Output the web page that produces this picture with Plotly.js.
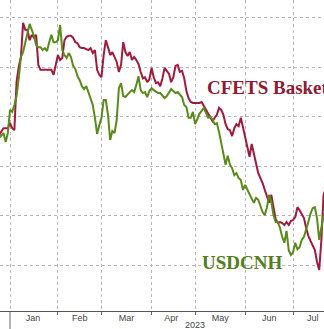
<!DOCTYPE html>
<html>
<head>
<meta charset="utf-8">
<script src="https://cdn.plot.ly/plotly-3.0.1.min.js"></script>
<style>html,body{margin:0;padding:0;background:#fff;}#chart{width:324px;height:329px;}</style>
</head>
<body>
<div id="chart"></div>
<script>
// Trading days (weekdays only, as on the original chart)
var dates = [
"2022-12-26","2022-12-27","2022-12-28","2022-12-29","2022-12-30",
"2023-01-02","2023-01-03","2023-01-04","2023-01-05","2023-01-06","2023-01-09","2023-01-10","2023-01-11","2023-01-12","2023-01-13","2023-01-16","2023-01-17","2023-01-18","2023-01-19","2023-01-20","2023-01-23","2023-01-24","2023-01-25","2023-01-26","2023-01-27","2023-01-30","2023-01-31",
"2023-02-01","2023-02-02","2023-02-03","2023-02-06","2023-02-07","2023-02-08","2023-02-09","2023-02-10","2023-02-13","2023-02-14","2023-02-15","2023-02-16","2023-02-17","2023-02-20","2023-02-21","2023-02-22","2023-02-23","2023-02-24","2023-02-27","2023-02-28",
"2023-03-01","2023-03-02","2023-03-03","2023-03-06","2023-03-07","2023-03-08","2023-03-09","2023-03-10","2023-03-13","2023-03-14","2023-03-15","2023-03-16","2023-03-17","2023-03-20","2023-03-21","2023-03-22","2023-03-23","2023-03-24","2023-03-27","2023-03-28","2023-03-29","2023-03-30","2023-03-31",
"2023-04-03","2023-04-04","2023-04-05","2023-04-06","2023-04-07","2023-04-10","2023-04-11","2023-04-12","2023-04-13","2023-04-14","2023-04-17","2023-04-18","2023-04-19","2023-04-20","2023-04-21","2023-04-24","2023-04-25","2023-04-26","2023-04-27","2023-04-28",
"2023-05-01","2023-05-02","2023-05-03","2023-05-04","2023-05-05","2023-05-08","2023-05-09","2023-05-10","2023-05-11","2023-05-12","2023-05-15","2023-05-16","2023-05-17","2023-05-18","2023-05-19","2023-05-22","2023-05-23","2023-05-24","2023-05-25","2023-05-26","2023-05-29","2023-05-30","2023-05-31",
"2023-06-01","2023-06-02","2023-06-05","2023-06-06","2023-06-07","2023-06-08","2023-06-09","2023-06-12","2023-06-13","2023-06-14","2023-06-15","2023-06-16","2023-06-19","2023-06-20","2023-06-21","2023-06-22","2023-06-23","2023-06-26","2023-06-27","2023-06-28","2023-06-29","2023-06-30",
"2023-07-03","2023-07-04","2023-07-05","2023-07-06","2023-07-07","2023-07-10","2023-07-11","2023-07-12","2023-07-13","2023-07-14","2023-07-17","2023-07-18","2023-07-19","2023-07-20","2023-07-21","2023-07-24"
];

// CFETS Basket (rebased, chart units)
var cfets = [
3.63,3.71,3.77,3.77,3.77,
3.87,3.77,3.73,4.70,5.01,5.21,5.90,5.76,5.76,5.55,5.66,5.60,5.66,5.05,4.95,4.95,4.95,4.95,4.95,4.95,4.85,5.05,
5.25,5.15,5.19,5.55,5.62,5.64,5.64,5.60,5.51,5.49,5.41,5.39,5.39,5.37,5.35,5.39,5.29,5.35,4.95,4.85,
4.80,5.25,5.55,5.41,5.25,5.31,5.21,5.11,4.91,5.05,5.51,5.31,5.23,5.31,5.15,5.21,5.15,5.07,4.91,4.78,4.80,4.70,4.76,
4.99,4.80,4.68,4.70,4.62,4.78,4.99,4.93,4.87,4.70,4.80,5.03,5.05,4.91,4.93,4.78,4.52,4.38,4.30,4.28,
4.28,4.28,4.28,4.30,4.22,4.14,4.06,3.98,3.91,3.98,4.04,4.18,4.14,4.04,3.85,3.75,3.73,3.61,3.77,3.85,3.81,3.98,3.77,
3.55,3.39,3.19,3.45,3.25,3.03,2.86,2.76,2.66,2.52,2.38,2.26,2.42,2.21,1.93,1.85,1.87,1.85,1.81,1.87,1.81,1.89,
1.91,1.97,2.17,2.11,2.03,1.95,1.75,1.59,1.49,1.38,1.30,1.06,0.90,1.51,2.42,2.83
];

// USDCNH (inverted, chart units)
var usdcnh = [
3.57,3.63,3.67,3.49,3.67,
4.14,4.10,4.24,4.42,4.78,5.21,5.31,5.51,5.74,5.88,5.76,5.64,5.45,5.41,5.41,5.35,5.39,5.33,5.51,5.66,5.51,5.51,
5.55,5.86,5.35,5.25,5.19,5.29,5.21,5.03,4.97,4.82,4.74,4.62,4.56,4.62,4.50,4.36,4.24,3.98,3.65,3.83,
3.98,4.34,4.34,4.04,3.53,3.71,3.67,3.94,4.58,4.68,4.42,4.40,4.46,4.50,4.54,4.50,4.64,4.82,4.54,4.48,4.50,4.40,4.52,
4.58,4.54,4.50,4.48,4.48,4.42,4.38,4.42,4.50,4.56,4.52,4.48,4.50,4.44,4.40,4.24,4.20,3.98,3.98,4.10,
3.85,3.95,4.06,4.12,4.18,4.08,3.98,4.00,3.94,3.85,3.87,3.69,3.49,3.23,3.03,3.21,3.03,2.96,2.82,2.86,2.76,2.72,2.52,
2.62,2.52,2.44,2.34,2.26,2.36,2.32,2.19,2.07,2.01,2.17,2.42,2.28,2.01,1.87,1.87,1.75,1.57,1.45,1.69,1.30,1.20,
1.26,1.45,1.32,1.36,1.51,1.57,1.71,1.87,2.04,2.15,2.17,1.95,1.51,1.75,2.01,2.07
];

var seriesNames = ["CFETS Basket", "USDCNH"];
var yearLabel = "2023";

var traces = [
  {x: dates, y: cfets, type: "scatter", mode: "lines", name: seriesNames[0],
   line: {color: "#a01a3c", width: 2}},
  {x: dates, y: usdcnh, type: "scatter", mode: "lines", name: seriesNames[1],
   line: {color: "#5b8a1c", width: 2}}
];

var layout = {
  width: 324, height: 329,
  margin: {l: 0, r: 0, t: 0, b: 18, pad: 0},
  paper_bgcolor: "#ffffff", plot_bgcolor: "#ffffff",
  showlegend: false,
  xaxis: {
    type: "date",
    range: ["2022-12-26 09:36", "2023-07-21 04:48"],
    rangebreaks: [{bounds: ["sat", "mon"]}],
    dtick: "M1", tick0: "2023-01-01",
    ticklabelmode: "period", tickformat: "%b",
    ticklabelstandoff: -5,
    showgrid: true, gridcolor: "#b5b5b5", griddash: "dot", gridwidth: 1,
    ticks: "outside", ticklen: 3, tickcolor: "#666",
    showline: true, linecolor: "#555", linewidth: 1,
    zeroline: false,
    tickfont: {family: "Liberation Sans, Arial, sans-serif", size: 9, color: "#444"}
  },
  yaxis: {
    range: [0.069, 6.364],
    dtick: 1, tick0: 0,
    showticklabels: false, ticks: "",
    showgrid: true, gridcolor: "#b5b5b5", griddash: "dot", gridwidth: 1,
    zeroline: false, showline: false
  },
  annotations: [
    {xref: "paper", yref: "paper", x: 205/324, y: (311-87)/311, xanchor: "left", yanchor: "middle",
     text: "<b>" + seriesNames[0] + "</b>", showarrow: false,
     font: {family: "Liberation Serif, Times New Roman, serif", size: 19, color: "#8e1a36"}},
    {xref: "paper", yref: "paper", x: 200/324, y: (311-262)/311, xanchor: "left", yanchor: "middle",
     text: "<b>" + seriesNames[1] + "</b>", showarrow: false,
     font: {family: "Liberation Serif, Times New Roman, serif", size: 19, color: "#557d1f"}},
    {xref: "paper", yref: "paper", x: 195/324, y: -14/311, xanchor: "center", yanchor: "middle",
     text: yearLabel, showarrow: false,
     font: {family: "Liberation Sans, Arial, sans-serif", size: 9, color: "#444"}}
  ],
  shapes: [
    {type: "line", xref: "paper", yref: "paper", x0: 10/324, x1: 10/324, y0: 0, y1: -18/311,
     line: {color: "#666", width: 1}}
  ]
};

Plotly.newPlot("chart", traces, layout, {staticPlot: true, displayModeBar: false});
</script>
</body>
</html>
